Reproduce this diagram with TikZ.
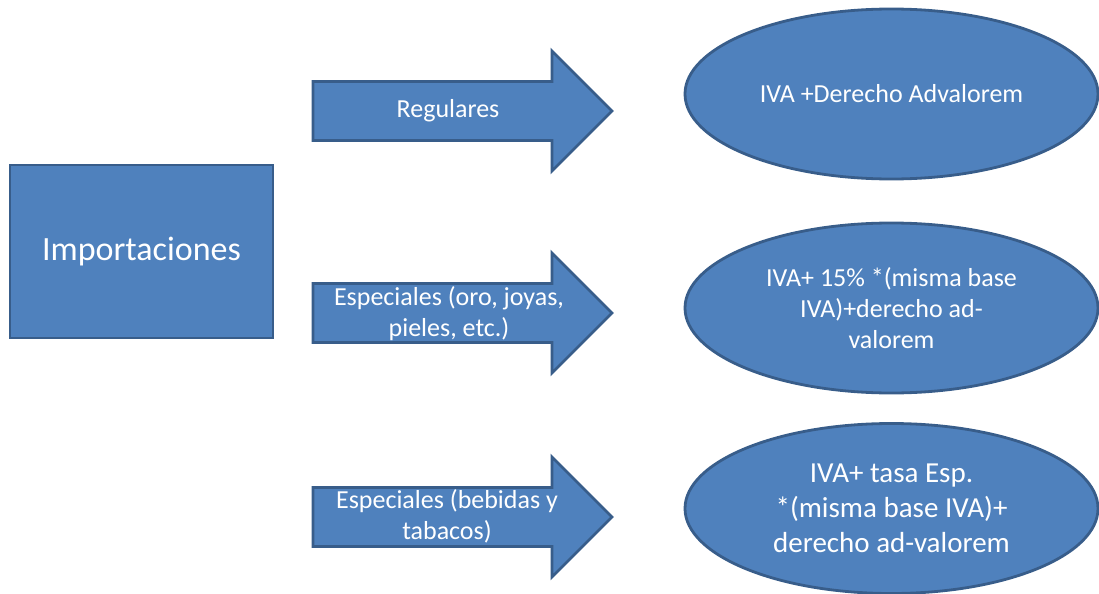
\documentclass[tikz,border=0pt]{standalone}
\usepackage{fontspec}
\setmainfont{Carlito}
\usetikzlibrary{shapes.geometric}
\definecolor{azul}{HTML}{4F81BD}
\definecolor{borde}{HTML}{385D8A}
\begin{document}
\begin{tikzpicture}
  [x=0.5pt,y=-0.5pt,
   caja/.style={draw=borde,fill=azul,line width=1.4pt},
   texto/.style={text=white,font=\fontsize{13}{15.5}\selectfont,align=center},
   elipse/.style={caja,ellipse,inner sep=0pt,minimum width=206.5pt,minimum height=85pt}]
  \useasboundingbox (0,0) rectangle (1099,594);
  \node[caja,minimum width=131.5pt,minimum height=86.5pt,text=white,
    font=\fontsize{17}{20}\selectfont] (imp) at (141.5,251.5) {Importaciones};
  \foreach \y in {111,313,517}
    \draw[caja] (313,\y-29.5) -- (552,\y-29.5) -- (552,\y-60) -- (612,\y)
      -- (552,\y+60) -- (552,\y+29.5) -- (313,\y+29.5) -- cycle;
  \node[texto] (reg) at (448,111) {Regulares};
  \node[texto] (esp1) at (449,314) {Especiales (oro, joyas,\\pieles, etc.)};
  \node[texto] (esp2) at (447,516) {Especiales (bebidas y\\tabacos)};
  \node[elipse,texto] (e1) at (891.5,94) {IVA +Derecho Advalorem};
  \node[elipse,texto] (e2) at (891.5,308) {IVA+ 15\% *(misma base\\IVA)+derecho ad-\\valorem};
  \node[elipse,texto,font=\fontsize{14.5}{17.5}\selectfont] (e3) at (891.5,508.5)
    {IVA+ tasa Esp.\\*(misma base IVA)+\\derecho ad-valorem};
\end{tikzpicture}
\end{document}
